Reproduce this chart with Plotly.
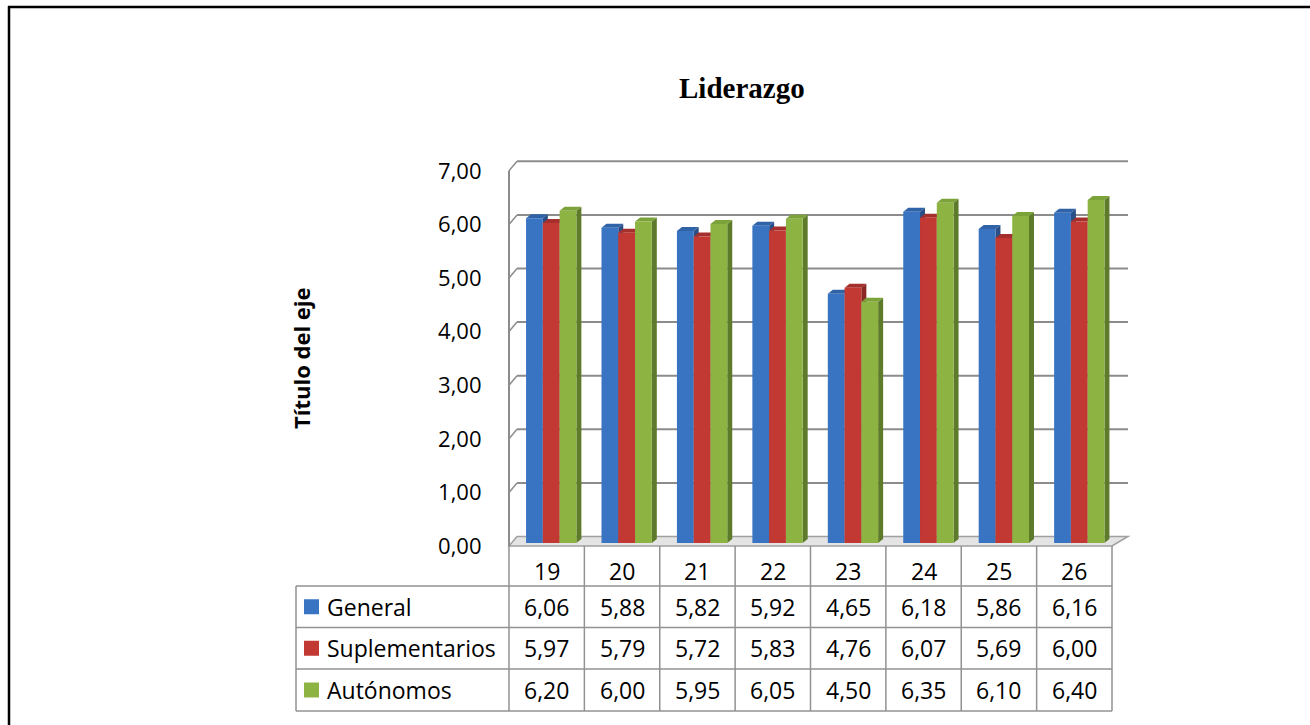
import plotly.graph_objects as go

# ---- data -------------------------------------------------------------
categories = ["19", "20", "21", "22", "23", "24", "25", "26"]
series_names = ["General", "Suplementarios", "Autónomos"]
general = [6.06, 5.88, 5.82, 5.92, 4.65, 6.18, 5.86, 6.16]
suplementarios = [5.97, 5.79, 5.72, 5.83, 4.76, 6.07, 5.69, 6.00]
autonomos = [6.20, 6.00, 5.95, 6.05, 4.50, 6.35, 6.10, 6.40]
y_ticks = [0, 1, 2, 3, 4, 5, 6, 7]

chart_title = "Liderazgo"
axis_title = "Título del eje"

# ---- styling ----------------------------------------------------------
W, H = 1310, 725
FRONT = ["#3874C2", "#C23833", "#8DB443"]
SIDE = ["#294F86", "#8A2724", "#5E7B2B"]
TOP = ["#2F62A6", "#A52F2C", "#7CA23A"]
GRID = "#8C8C8C"
TABLE_LINE = "#929292"
TEXT_FONT = "Open Sans"

# bar plane (pixels)
BX0, BX1 = 513.5, 1117.0
BY0 = 543.0
PPU_Y = 53.6
Y_MAX = 7
# front and back planes of the 3D box (pixels)
FX0, FX1, FY0 = 509.0, 1112.0, 546.0
KX0, KX1, KY0 = 517.0, 1128.0, 536.5

# depth of each column (pixels)
DEPTH_X, DEPTH_Y = 5.0, 4.0


def px(x):
    return x / W


def py(y):
    return 1 - y / H


def fmt(v):
    return f"{v:.2f}".replace(".", ",")


values = [general, suplementarios, autonomos]
n_cat = len(categories)
idx = list(range(n_cat))
ppu_x = (BX1 - BX0) / n_cat
dx = DEPTH_X / ppu_x
dy = DEPTH_Y / PPU_Y
bar_w = (1 - 0.333) / 3

fig = go.Figure()
shapes = []
annotations = []

# ---- columns (front faces) ------------------------------------------
for s, (name, vals) in enumerate(zip(series_names, values)):
    off = -1.5 * bar_w + s * bar_w
    fig.add_trace(go.Bar(
        x=idx, y=vals, name=name, width=bar_w, offset=off,
        marker=dict(color=FRONT[s], line=dict(width=0)),
        showlegend=False, hoverinfo="y",
    ))

# ---- column side and top faces (behind the front faces) --------------
for c in idx:
    for s, vals in enumerate(values):
        v = vals[c]
        xl = c - 1.5 * bar_w + s * bar_w
        xr = xl + bar_w
        side = (f"M {xr},0 L {xr},{v} L {xr + dx},{v + dy} "
                f"L {xr + dx},{dy} Z")
        top = (f"M {xl},{v} L {xr},{v} L {xr + dx},{v + dy} "
               f"L {xl + dx},{v + dy} Z")
        shapes.append(dict(type="path", path=side, xref="x", yref="y",
                           fillcolor=SIDE[s], line=dict(width=0),
                           layer="below"))
        shapes.append(dict(type="path", path=top, xref="x", yref="y",
                           fillcolor=TOP[s], line=dict(width=0),
                           layer="below"))

# ---- floor ------------------------------------------------------------
floor = (f"M {px(FX0)},{py(FY0)} L {px(FX1)},{py(FY0)} "
         f"L {px(KX1)},{py(KY0)} L {px(KX0)},{py(KY0)} Z")
shapes.append(dict(type="path", path=floor, xref="paper", yref="paper",
                   fillcolor="#E4E4E4", line=dict(color="#A0A0A0", width=1.5),
                   layer="below"))

# ---- back wall gridlines, side wall ticks, front edge ----------------
for v in y_ticks[1:]:
    yb = KY0 - PPU_Y * v
    yf = FY0 - PPU_Y * v
    shapes.append(dict(type="line", xref="paper", yref="paper",
                       x0=px(KX0), x1=px(KX1), y0=py(yb), y1=py(yb),
                       line=dict(color=GRID, width=2), layer="below"))
    shapes.append(dict(type="line", xref="paper", yref="paper",
                       x0=px(FX0), x1=px(KX0), y0=py(yf), y1=py(yb),
                       line=dict(color=GRID, width=1.5), layer="below"))
shapes.append(dict(type="line", xref="paper", yref="paper",
                   x0=px(FX0), x1=px(FX0), y0=py(FY0),
                   y1=py(FY0 - PPU_Y * Y_MAX),
                   line=dict(color=GRID, width=2), layer="below"))

# ---- data table -------------------------------------------------------
TAB_L = 296.0
col_w = (FX1 - FX0) / n_cat
row_y = [546.0, 586.0, 627.5, 669.0, 711.0]
line = dict(color=TABLE_LINE, width=1.5)

for k in range(n_cat + 1):
    x = FX0 + k * col_w
    shapes.append(dict(type="line", xref="paper", yref="paper",
                       x0=px(x), x1=px(x), y0=py(row_y[0]), y1=py(row_y[-1]),
                       line=line, layer="above"))
for y in row_y[1:]:
    shapes.append(dict(type="line", xref="paper", yref="paper",
                       x0=px(TAB_L), x1=px(FX1), y0=py(y), y1=py(y),
                       line=line, layer="above"))
shapes.append(dict(type="line", xref="paper", yref="paper",
                   x0=px(TAB_L), x1=px(TAB_L), y0=py(row_y[1]),
                   y1=py(row_y[-1]), line=line, layer="above"))

text_font = dict(family=TEXT_FONT, size=23, color="#000000")
tick_font = dict(family=TEXT_FONT, size=22, color="#000000")
for k, cat in enumerate(categories):
    cx = FX0 + (k + 0.5) * col_w
    annotations.append(dict(x=px(cx), y=py(571), xref="paper", yref="paper",
                            text=cat, showarrow=False, font=text_font,
                            xanchor="center", yanchor="middle"))
for s, (name, vals) in enumerate(zip(series_names, values)):
    cy = (row_y[s + 1] + row_y[s + 2]) / 2
    shapes.append(dict(type="rect", xref="paper", yref="paper",
                       x0=px(304), x1=px(319), y0=py(cy + 7.5), y1=py(cy - 7.5),
                       fillcolor=FRONT[s], line=dict(width=0), layer="above"))
    annotations.append(dict(x=px(325), y=py(cy), xref="paper", yref="paper",
                            text=name, showarrow=False, font=text_font,
                            xanchor="left", yanchor="middle"))
    for k, v in enumerate(vals):
        cx = FX0 + (k + 0.5) * col_w
        annotations.append(dict(x=px(cx), y=py(cy), xref="paper",
                                yref="paper", text=fmt(v), showarrow=False,
                                font=text_font, xanchor="center",
                                yanchor="middle"))

# ---- titles -----------------------------------------------------------
annotations.append(dict(x=px(742), y=py(88), xref="paper", yref="paper",
                        text=f"<b>{chart_title}</b>", showarrow=False,
                        font=dict(family="Liberation Serif", size=29,
                                  color="#000000"),
                        xanchor="center", yanchor="middle"))
annotations.append(dict(x=px(301), y=py(358), xref="paper", yref="paper",
                        text=f"<b>{axis_title}</b>", showarrow=False,
                        textangle=-90,
                        font=dict(family=TEXT_FONT, size=22, color="#000000"),
                        xanchor="center", yanchor="middle"))

# ---- chart frame ------------------------------------------------------
shapes.append(dict(type="line", xref="paper", yref="paper",
                   x0=px(8), x1=1.0, y0=py(7), y1=py(7),
                   line=dict(color="#000000", width=2.5), layer="above"))
shapes.append(dict(type="line", xref="paper", yref="paper",
                   x0=px(9), x1=px(9), y0=py(6), y1=0.0,
                   line=dict(color="#000000", width=2.5), layer="above"))

fig.update_layout(
    width=W, height=H, autosize=False,
    margin=dict(l=0, r=0, t=0, b=0, pad=0, autoexpand=False),
    paper_bgcolor="#FFFFFF", plot_bgcolor="rgba(0,0,0,0)",
    barmode="group",
    shapes=shapes, annotations=annotations,
    xaxis=dict(domain=[px(BX0), px(BX1)], range=[-0.5, n_cat - 0.5],
               showgrid=False, zeroline=False, showline=False,
               showticklabels=False, ticks="", fixedrange=True,
               automargin=False),
    yaxis=dict(domain=[py(BY0), py(BY0 - PPU_Y * Y_MAX)], range=[0, Y_MAX],
               tickvals=y_ticks, ticktext=[fmt(v) for v in y_ticks],
               tickfont=tick_font, showgrid=False, zeroline=False,
               showline=False, ticks="", ticklabelstandoff=31,
               ticklabelshift=3, fixedrange=True, automargin=False),
)

fig.write_html("out.html")
